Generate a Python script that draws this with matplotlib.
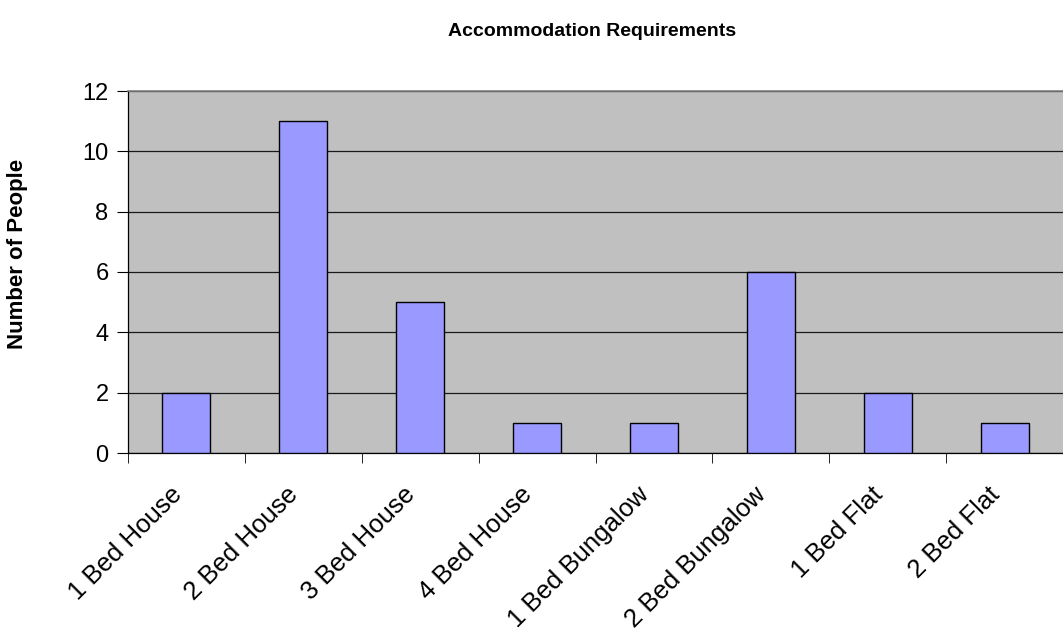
import numpy as np
import matplotlib
matplotlib.use("Agg")
import matplotlib.pyplot as plt
from matplotlib.transforms import ScaledTranslation

categories = ["1 Bed House", "2 Bed House", "3 Bed House", "4 Bed House",
              "1 Bed Bungalow", "2 Bed Bungalow", "1 Bed Flat", "2 Bed Flat"]
people = [2, 11, 5, 1, 1, 6, 2, 1]

plt.rcParams["font.family"] = ["Liberation Sans", "DejaVu Sans"]

fig = plt.figure(figsize=(10.63, 6.37), dpi=100)
ax = fig.add_axes([128 / 1063, 1 - 453 / 637, 935 / 1063, 362 / 637])
ax.set_facecolor("#C0C0C0")

x = np.arange(len(categories))
ax.bar(x, people, width=0.41, color="#9999FF", edgecolor="black", linewidth=1, zorder=3)

ax.set_xlim(-0.5, len(categories) - 0.5)
ax.set_ylim(0, 12)
ax.set_yticks(range(0, 13, 2))
ax.yaxis.grid(True, color="#1a1a1a", linewidth=0.9, zorder=1)
ax.tick_params(axis="y", labelsize=17, length=8, direction="out", pad=6)

ax.set_xticks(x)
ax.set_xticklabels(categories, rotation=45, ha="right", va="top",
                   rotation_mode="anchor", fontsize=18.5)
ax.tick_params(axis="x", length=0, pad=21)
shift = ScaledTranslation(-17 / 100, 0, fig.dpi_scale_trans)
for lbl in ax.get_xticklabels():
    lbl.set_transform(lbl.get_transform() + shift)
ax.set_xticks(np.arange(-0.5, len(categories)), minor=True)
ax.tick_params(axis="x", which="minor", length=7, direction="out")

ax.spines["right"].set_visible(False)
ax.spines["top"].set_color("#808080")
ax.spines["top"].set_linewidth(1.2)
ax.spines["left"].set_linewidth(0.9)
ax.spines["bottom"].set_linewidth(0.9)

fig.text(18 / 1063, 1 - 254 / 637, "Number of People", rotation=90,
         ha="center", va="center", fontsize=16, fontweight="bold")
fig.text(592 / 1063, 1 - 31 / 637, "Accommodation Requirements",
         ha="center", va="center", fontsize=14, fontweight="bold")

fig.savefig("out.png", dpi=100)
